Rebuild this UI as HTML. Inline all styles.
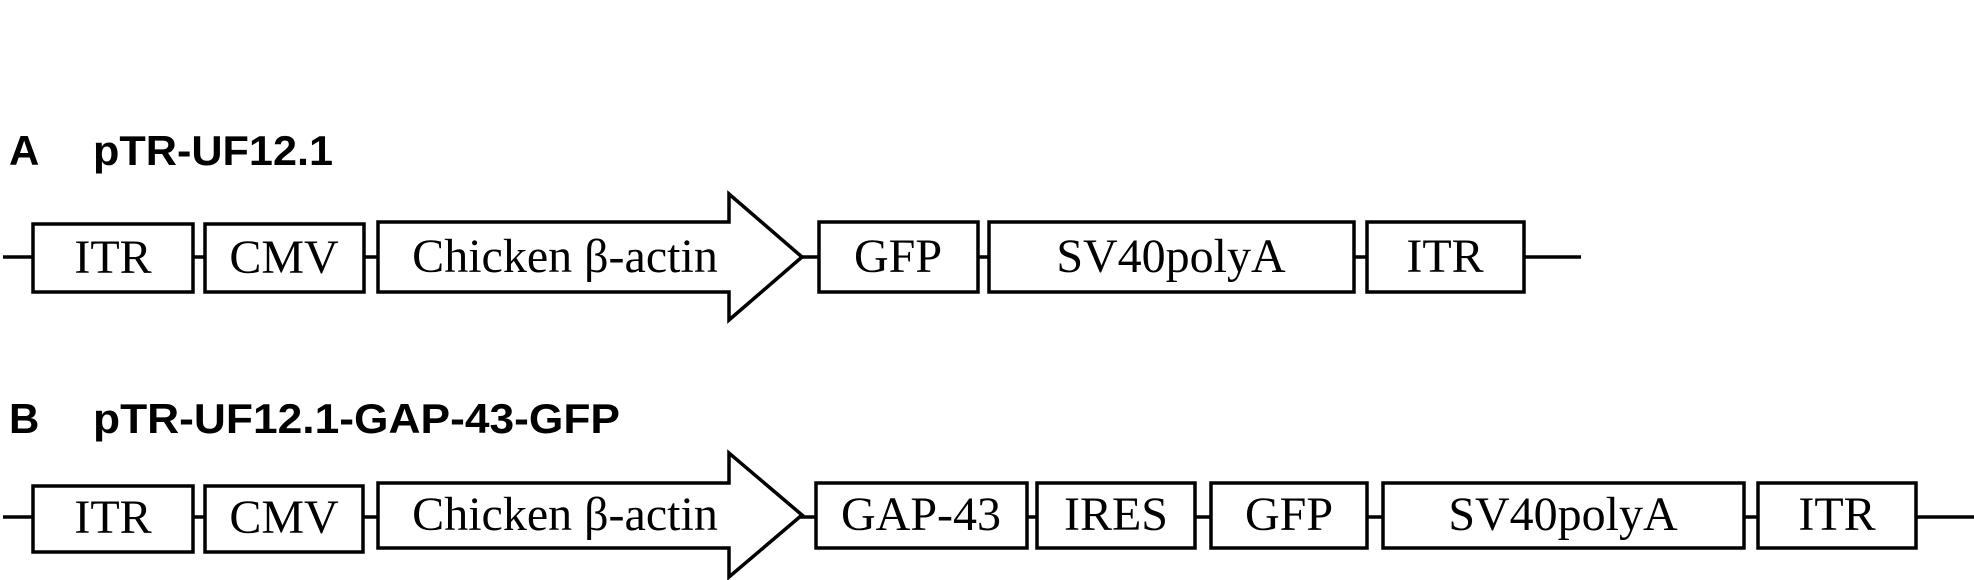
<!DOCTYPE html>
<html><head><meta charset="utf-8"><style>
html,body{margin:0;padding:0;background:#fff;}
svg{display:block;}
.t{font-family:"Liberation Serif",serif;font-size:48px;fill:#000;text-anchor:middle;}
.h{font-family:"Liberation Sans",sans-serif;font-size:42px;font-weight:bold;fill:#000;}
</style></head><body>
<svg width="1974" height="580" viewBox="0 0 1974 580" xmlns="http://www.w3.org/2000/svg">
<g stroke="#000" stroke-width="3.5" fill="#fff">
<!-- Row A -->
<line x1="3" y1="257" x2="1581" y2="257"/>
<rect x="33" y="224" width="160" height="68"/>
<rect x="205" y="224" width="159" height="68"/>
<polygon points="378,222 729,222 729,194 802,257 729,320 729,292 378,292"/>
<rect x="819" y="222" width="159" height="70"/>
<rect x="989" y="222" width="365" height="70"/>
<rect x="1367" y="222" width="157" height="70"/>
<!-- Row B -->
<line x1="3" y1="517" x2="1974" y2="517"/>
<rect x="33" y="486" width="160" height="66"/>
<rect x="205" y="486" width="158" height="66"/>
<polygon points="378,483 729,483 729,453 802,515 729,577 729,548 378,548"/>
<rect x="816" y="483" width="211" height="65"/>
<rect x="1037" y="483" width="158" height="65"/>
<rect x="1211" y="483" width="156" height="65"/>
<rect x="1383" y="483" width="361" height="65"/>
<rect x="1758" y="483" width="158" height="65"/>
</g>
<text class="h" x="9" y="165">A</text>
<text class="h" x="93" y="165" textLength="240" lengthAdjust="spacingAndGlyphs">pTR-UF12.1</text>
<text class="h" x="9" y="433">B</text>
<text class="h" x="93" y="433" textLength="527" lengthAdjust="spacingAndGlyphs">pTR-UF12.1-GAP-43-GFP</text>

<text class="t" x="113" y="273">ITR</text>
<text class="t" x="284" y="273">CMV</text>
<text class="t" x="565" y="272">Chicken β-actin</text>
<text class="t" x="898" y="272">GFP</text>
<text class="t" x="1171" y="272">SV40polyA</text>
<text class="t" x="1445" y="272">ITR</text>

<text class="t" x="113" y="533">ITR</text>
<text class="t" x="284" y="533">CMV</text>
<text class="t" x="565" y="530">Chicken β-actin</text>
<text class="t" x="921" y="530">GAP-43</text>
<text class="t" x="1116" y="530">IRES</text>
<text class="t" x="1289" y="530">GFP</text>
<text class="t" x="1563" y="530">SV40polyA</text>
<text class="t" x="1837" y="530">ITR</text>
</svg>
</body></html>
